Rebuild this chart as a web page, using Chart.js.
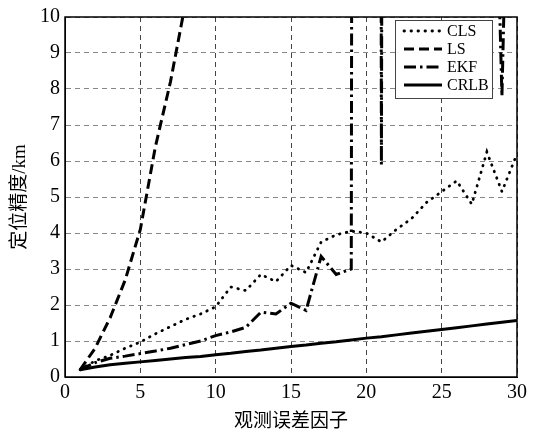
<!DOCTYPE html>
<html>
<head>
<meta charset="utf-8">
<script src="https://cdn.jsdelivr.net/npm/chart.js@4.4.0/dist/chart.umd.min.js"></script>
<style>
  html, body { margin: 0; padding: 0; background: #fff; }
  #wrap { width: 544px; height: 433px; }
</style>
</head>
<body>
<div id="wrap"><canvas id="posErr"></canvas></div>
<script>
// positioning error vs. observation error factor

const factors = [1, 2, 3, 4, 5, 6, 7, 8, 9, 10, 11, 12, 13, 14, 15,
  16, 17, 18, 19, 20, 21, 22, 23, 24, 25, 26, 27, 28, 29, 30];
const clsData = [0.2, 0.45, 0.6, 0.8, 0.97, 1.2, 1.4, 1.6, 1.75, 1.95, 2.5, 2.4, 2.85, 2.65, 3.1,
  2.9, 3.75, 3.95, 4.05, 4.0, 3.75, 4.1, 4.4, 4.85, 5.15, 5.45, 4.8, 6.25, 5.15, 6.2];
const lsData = [0.2, 0.8, 1.65, 2.7, 4.1, 6.4, 8.2, 10.4, 13, 16, 19, 23, 27, 31, 36,
  41, 47, 53, 60, 67, 75, 83, 92, 101, 111, 121, 132, 144, 156, 169];
const ekfData = [0.2, 0.4, 0.52, 0.58, 0.65, 0.72, 0.8, 0.9, 1.0, 1.15, 1.25, 1.38, 1.8, 1.75, 2.05,
  1.85, 3.35, 2.85, 3.0, 300, 5.9, 200, 150, 120, 90, 80, 60, 24, 7.8, 26];
const crlbData = [0.2, 0.28, 0.34, 0.38, 0.42, 0.46, 0.5, 0.54, 0.57, 0.62, 0.66, 0.71, 0.75, 0.8, 0.85,
  0.89, 0.94, 0.98, 1.03, 1.08, 1.12, 1.17, 1.22, 1.27, 1.32, 1.37, 1.42, 1.47, 1.52, 1.57];
const seriesNames = ["CLS", "LS", "EKF", "CRLB"];
const xTitle = "观测误差因子";
const yTitle = "定位精度/km";

const serif = "'Liberation Serif', 'Times New Roman', 'Noto Sans CJK SC', serif";

function pts(ys) {
  return factors.map((x, i) => ({ x: x, y: ys[i] }));
}

function line(name, ys, dash, width, cap) {
  return {
    label: name,
    data: pts(ys),
    borderColor: "#000",
    backgroundColor: "#000",
    borderWidth: width,
    borderDash: dash,
    borderCapStyle: cap || "butt",
    pointRadius: 0,
    tension: 0,
    fill: false,
    clip: 0,
  };
}

// box round the plot and the legend in the upper right corner
const framePlugin = {
  id: "frame",
  afterDraw(chart) {
    const ctx = chart.ctx;
    const a = chart.chartArea;
    ctx.save();
    ctx.setLineDash([]);
    ctx.strokeStyle = "#000";
    ctx.lineWidth = 1.5;
    ctx.strokeRect(a.left, a.top, a.right - a.left, a.bottom - a.top);

    const bx = a.right - 122, by = a.top + 3, bw = 97, bh = 78;
    ctx.fillStyle = "#fff";
    ctx.fillRect(bx, by, bw, bh);
    ctx.strokeStyle = "#444";
    ctx.lineWidth = 1;
    ctx.strokeRect(bx + 0.5, by + 0.5, bw, bh);

    ctx.font = "16px " + serif;
    ctx.textBaseline = "middle";
    chart.data.datasets.forEach((ds, i) => {
      const y = by + 11 + i * 18;
      ctx.strokeStyle = "#000";
      ctx.lineWidth = ds.borderWidth;
      ctx.lineCap = ds.borderCapStyle;
      ctx.setLineDash(ds.borderDash || []);
      ctx.beginPath();
      ctx.moveTo(bx + 9, y);
      ctx.lineTo(bx + 47, y);
      ctx.stroke();
      ctx.setLineDash([]);
      ctx.fillStyle = "#000";
      ctx.fillText(ds.label, bx + 52, y + 1);
    });
    ctx.restore();
  }
};

let posErr = document.getElementById("posErr").getContext("2d");
let posErrChart = new Chart(posErr, {
  type: "line",
  data: {
    datasets: [
      line(seriesNames[0], clsData, [0.5, 6.5], 2.8, "round"),
      line(seriesNames[1], lsData, [10, 5], 3),
      line(seriesNames[2], ekfData, [12, 4, 2.5, 4], 3),
      line(seriesNames[3], crlbData, [], 3),
    ],
  },
  options: {
    responsive: true,
    maintainAspectRatio: false,
    animation: false,
    layout: { padding: { top: 15, right: 27, left: 0, bottom: 0 } },
    plugins: {
      legend: { display: false },
      tooltip: { enabled: false },
    },
    scales: {
      x: {
        type: "linear",
        min: 0,
        max: 30,
        afterFit(scale) { scale.height = 56; },
        ticks: {
          stepSize: 5,
          color: "#000",
          padding: 4,
          font: { family: serif, size: 20 },
        },
        grid: { color: "#444", lineWidth: 1, drawTicks: false },
        border: { display: true, color: "#000", dash: [5, 4] },
        title: {
          display: true,
          text: xTitle,
          color: "#000",
          padding: { top: 0, bottom: 0 },
          font: { family: serif, size: 19 },
        },
      },
      y: {
        type: "linear",
        min: 0,
        max: 10,
        afterFit(scale) { scale.width = 65; },
        ticks: {
          stepSize: 1,
          color: "#000",
          padding: 5,
          font: { family: serif, size: 20 },
        },
        grid: { color: "#888", lineWidth: 1, drawTicks: false },
        border: { display: true, color: "#000", dash: [5, 4] },
        title: {
          display: true,
          text: yTitle,
          color: "#000",
          padding: { top: 9, bottom: 0 },
          font: { family: serif, size: 19 },
        },
      },
    },
  },
  plugins: [framePlugin],
});
</script>
</body>
</html>
